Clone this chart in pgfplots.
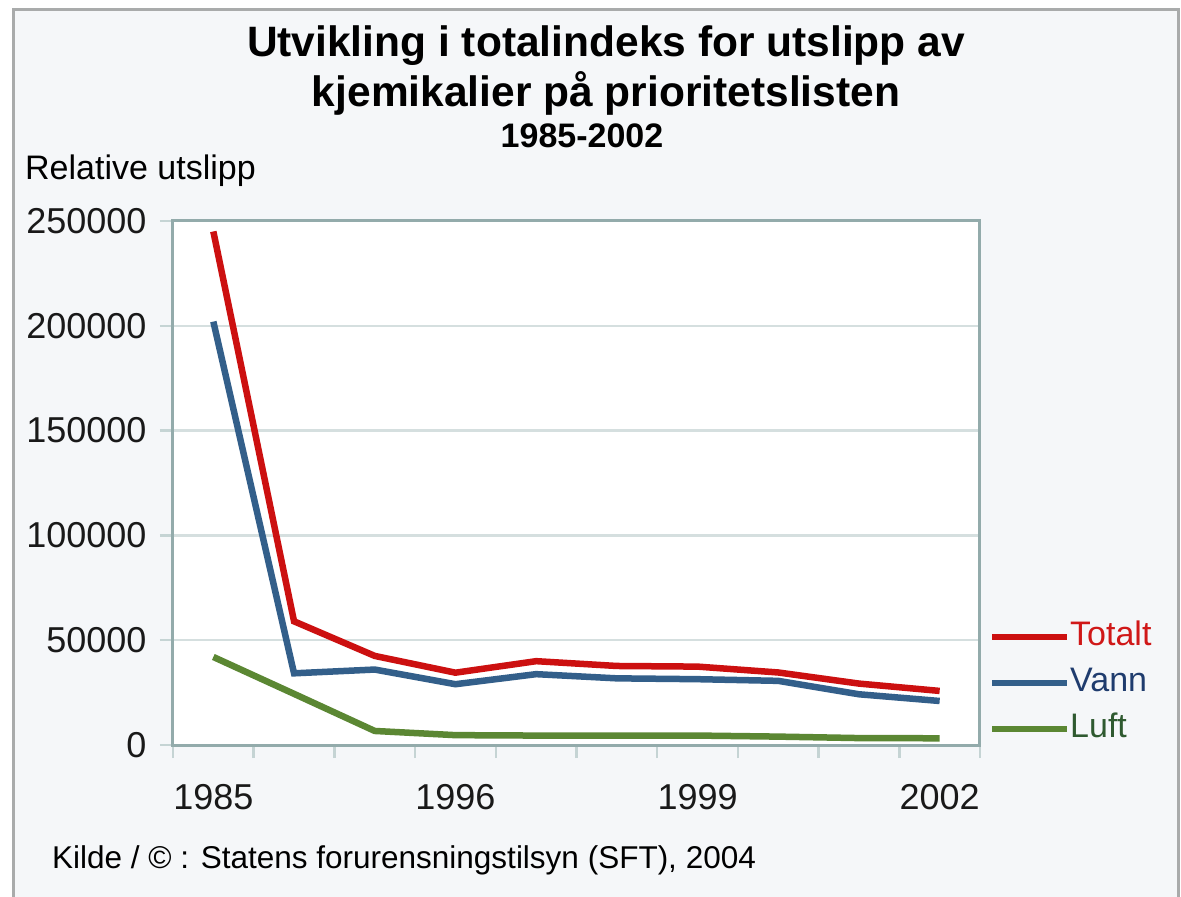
\documentclass[border=0pt]{standalone}
\usepackage{fontspec}
\usepackage{pgfplots}
\pgfplotsset{compat=1.18}
\setmainfont{Liberation Sans}
\definecolor{bgc}{HTML}{F5F7F9}
\definecolor{borderc}{HTML}{A9ABAB}
\definecolor{axisc}{HTML}{93ABAB}
\definecolor{gridc}{HTML}{D5DFDF}
\definecolor{tickc}{HTML}{C5D4D4}
\definecolor{redc}{HTML}{CC1010}
\definecolor{bluec}{HTML}{335F8A}
\definecolor{greenc}{HTML}{5B8733}
\definecolor{redt}{HTML}{D01818}
\definecolor{bluet}{HTML}{1F3C6E}
\definecolor{greent}{HTML}{2F5A30}
\begin{document}
\begin{tikzpicture}[x=1pt,y=1pt]
\useasboundingbox (-173,-152) rectangle (1008,745);
\fill[white] (-173,-152) rectangle (1008,745);
\filldraw[fill=bgc, draw=borderc, line width=3pt] (-159,-175) rectangle (1005,735.5);
\begin{axis}[
  at={(0,0)}, anchor=south west,
  scale only axis, width=807pt, height=524pt,
  xmin=-0.5, xmax=9.5, ymin=0, ymax=250000,
  axis background/.style={fill=white},
  axis line style={draw=axisc, line width=3pt},
  ytick={0,50000,100000,150000,200000,250000},
  scaled y ticks=false,
  yticklabel style={/pgf/number format/fixed, /pgf/number format/1000 sep={}, xshift=-10pt},
  ymajorgrids, grid style={draw=gridc, line width=2.5pt},
  tick align=outside, xtick pos=bottom, ytick pos=left,
  major tick length=13pt,
  tick style={draw=tickc, line width=2.5pt},
  xtick={-0.5,0.5,1.5,2.5,3.5,4.5,5.5,6.5,7.5,8.5,9.5}, xticklabels={},
  extra x ticks={0,3,6,9}, extra x tick labels={1985,1996,1999,2002},
  extra x tick style={major tick length=0pt, grid=none, xticklabel style={yshift=-36pt}},
  ticklabel style={font=\fontsize{36}{42}\selectfont, text=black!90},
  /pgf/number format/assume math mode=true,
  legend style={at={(1,0)}, anchor=south west, xshift=9pt, draw=none, fill=none,
    font=\fontsize{34}{40}\selectfont, row sep=15pt, inner sep=0pt,
    nodes={inner sep=0pt, text height=24pt, text depth=7pt},
    /tikz/every even column/.append style={column sep=7pt}},
  legend cell align=left,
  legend image code/.code={\draw[#1, line width=6pt] (0pt,0pt) -- (75pt,0pt);},
]
\addplot[redc, line width=6.5pt] coordinates {(0,245000) (1,59000) (2,42500) (3,34500) (4,40000) (5,37700) (6,37400) (7,34600) (8,29300) (9,25800)};
\addlegendentry{\textcolor{redt}{Totalt}}
\addplot[bluec, line width=6.5pt] coordinates {(0,202000) (1,34200) (2,36000) (3,29000) (4,33800) (5,31800) (6,31400) (7,30600) (8,24200) (9,21000)};
\addlegendentry{\textcolor{bluet}{Vann}}
\addplot[greenc, line width=6.5pt] coordinates {(0,42000) (1,24400) (2,6700) (3,4700) (4,4500) (5,4500) (6,4500) (7,4000) (8,3300) (9,3200)};
\addlegendentry{\textcolor{greent}{Luft}}
\end{axis}
\node[anchor=base, font=\fontsize{42.5}{48}\selectfont\bfseries] at (433,688) {Utvikling i totalindeks for utslipp av};
\node[anchor=base, font=\fontsize{42.5}{48}\selectfont\bfseries] at (433,638) {kjemikalier på prioritetslisten};
\node[anchor=base, font=\fontsize{34}{40}\selectfont\bfseries] at (409,597) {1985-2002};
\node[anchor=base west, inner sep=0pt, font=\fontsize{34}{40}\selectfont] at (-148,565) {Relative utslipp};
\node[anchor=base west, inner sep=0pt, font=\fontsize{31.5}{36}\selectfont] at (-121,-123) {Kilde / © : Statens forurensningstilsyn (SFT), 2004};
\end{tikzpicture}
\end{document}
